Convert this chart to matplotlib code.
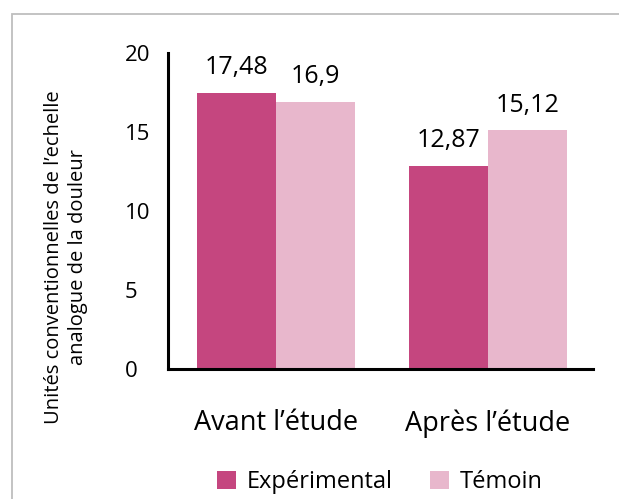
import matplotlib
matplotlib.use("Agg")
import matplotlib.pyplot as plt
import numpy as np
from matplotlib.patches import Rectangle, Patch

categories = ["Avant l’étude", "Après l’étude"]
series_names = ["Expérimental", "Témoin"]
experimental = [17.48, 12.87]
temoin = [16.9, 15.12]
value_labels_exp = ["17,48", "12,87"]
value_labels_tem = ["16,9", "15,12"]
yticks = [0, 5, 10, 15, 20]

colors = ["#C5467F", "#E8B7CC"]
FONT = "Open Sans"
plt.rcParams["font.family"] = [FONT, "DejaVu Sans"]

W, H = 619, 499
fig = plt.figure(figsize=(W / 100, H / 100), dpi=100)

# outer gray frame (extends beyond right and bottom edges)
fig.patches.append(Rectangle((12 / W, -0.1), 1.2, (H - 14) / H + 0.1,
                             transform=fig.transFigure, fill=False,
                             edgecolor="#BEBEBE", linewidth=1.3))

ax = fig.add_axes([168 / W, (H - 369) / H, (593 - 168) / W, (369 - 53) / H])

x = np.arange(len(categories))
w = 0.3726
b1 = ax.bar(x - w / 2, experimental, w, color=colors[0], label=series_names[0])
b2 = ax.bar(x + w / 2, temoin, w, color=colors[1], label=series_names[1])

for bars, labs in ((b1, value_labels_exp), (b2, value_labels_tem)):
    for rect, lab in zip(bars, labs):
        ax.annotate(lab, (rect.get_x() + rect.get_width() / 2, rect.get_height()),
                    xytext=(0, 9), textcoords="offset points",
                    ha="center", va="bottom", fontsize=18, color="black")

ax.set_xlim(-0.509, 1.495)
ax.set_ylim(0, 20)
ax.set_yticks(yticks)
ax.set_yticklabels([str(t) for t in yticks])
ax.set_xticks(x)
ax.set_xticklabels(categories, fontsize=19.5)

for s in ("top", "right"):
    ax.spines[s].set_visible(False)
for s in ("left", "bottom"):
    ax.spines[s].set_linewidth(2.2)
    ax.spines[s].set_color("black")

ax.tick_params(axis="y", length=0, pad=31, labelsize=16)
ax.tick_params(axis="x", length=0, pad=29)
for lab in ax.get_yticklabels():
    lab.set_horizontalalignment("left")

fig.text(66 / W, (H - 257) / H,
         "Unités conventionnelles de l’echelle\nanalogue de la douleur",
         rotation=90, ha="center", va="center", fontsize=14.5,
         linespacing=1.25, multialignment="center")

handles = [Patch(facecolor=c, edgecolor="none") for c in colors]
fig.legend(handles, series_names, loc="center", bbox_to_anchor=(380 / W, (H - 482) / H),
           ncol=2, frameon=False, fontsize=17, handlelength=0.8, handleheight=0.8,
           handletextpad=0.45, columnspacing=1.6)

fig.savefig("out.png", dpi=100)
